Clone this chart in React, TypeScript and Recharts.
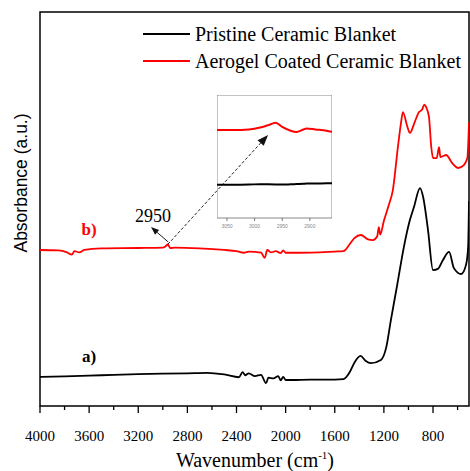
import React from 'react';
import { LineChart, Line, XAxis, YAxis, ReferenceArea, ReferenceLine, ReferenceDot, Legend } from 'recharts';

// ---- main spectrum data ----
const pristineWave = [4000, 3800, 3600, 3400, 3200, 3000, 2800, 2640, 2500, 2380, 2350, 2330, 2300, 2250, 2200, 2160, 2140, 2100, 2060, 2040, 2020, 2000, 1950, 1800, 1600, 1530, 1480, 1440, 1390, 1350, 1306, 1224, 1180, 1143, 1090, 1037, 990, 955, 906, 880, 841, 800, 760, 720, 669, 630, 571, 530, 514, 507];
const pristineAbs = [7.4, 7.5, 7.7, 7.9, 8.1, 8.2, 8.3, 8.4, 8.0, 7.3, 8.6, 7.8, 8.3, 7.6, 7.9, 5.8, 7.2, 7.0, 7.6, 6.5, 7.4, 6.6, 6.6, 6.7, 6.7, 6.8, 8.5, 11.0, 12.7, 11.5, 10.9, 11.7, 15.0, 21.8, 31.0, 40.4, 47.0, 50.5, 55.3, 53.0, 44.7, 34.5, 34.8, 37.0, 39.1, 35.0, 33.5, 36.0, 40.4, 52.0];

const coatedWave = [4000, 3850, 3780, 3740, 3720, 3680, 3640, 3500, 3200, 3000, 2980, 2960, 2940, 2900, 2700, 2500, 2400, 2340, 2300, 2200, 2170, 2150, 2120, 2080, 2040, 2020, 2000, 1900, 1600, 1530, 1480, 1440, 1388, 1330, 1290, 1255, 1241, 1230, 1200, 1160, 1127, 1086, 1060, 1045, 1010, 988, 950, 914, 890, 870, 857, 833, 815, 800, 770, 751, 740, 720, 694, 640, 596, 547, 520, 507];
const coatedAbs = [39.6, 39.5, 39.0, 38.4, 39.3, 39.0, 39.6, 40.0, 40.1, 40.2, 40.5, 41.0, 40.1, 40.2, 40.0, 39.6, 39.3, 38.9, 39.2, 38.9, 37.6, 39.6, 39.0, 39.3, 38.8, 39.5, 38.9, 38.9, 39.2, 39.3, 41.0, 42.6, 43.4, 42.3, 42.1, 43.0, 45.4, 43.5, 47.0, 51.0, 54.8, 65.7, 72.0, 74.6, 71.0, 69.3, 72.0, 74.6, 75.2, 76.5, 75.9, 73.4, 66.0, 62.9, 62.9, 65.7, 63.2, 63.4, 63.7, 61.5, 60.4, 61.2, 63.0, 72.0];

const xTicks = [4000, 3800, 3600, 3400, 3200, 3000, 2800, 2600, 2400, 2200, 2000, 1800, 1600, 1400, 1200, 1000, 800, 600];

const seriesNames = ['Pristine Ceramic Blanket', 'Aerogel Coated Ceramic Blanket'];

// ---- inset data ----
const insetWave = [3068, 3040, 3010, 2990, 2975, 2962, 2950, 2935, 2924, 2912, 2906, 2890, 2870, 2860];
const insetCoated = [71.5, 71.5, 72.0, 73.5, 75.5, 77.5, 74.0, 71.0, 70.0, 72.0, 72.8, 72.0, 71.0, 70.0];
const insetPristine = [27.0, 27.0, 27.2, 27.5, 27.4, 27.3, 27.2, 27.4, 27.6, 27.8, 28.0, 28.0, 28.2, 28.2];
const insetTicks = [3050, 3000, 2950, 2900];

const pristineData = pristineWave.map((w, i) => ({ w, a: pristineAbs[i] }));
const coatedData = coatedWave.map((w, i) => ({ w, a: coatedAbs[i] }));
const insetCoatedData = insetWave.map((w, i) => ({ w, a: insetCoated[i] }));
const insetPristineData = insetWave.map((w, i) => ({ w, a: insetPristine[i] }));

const SERIF = '"Liberation Serif", "Times New Roman", serif';
const SANS = '"Liberation Sans", Arial, sans-serif';
const RED = '#ff0000';

const XTick = (props: any) => {
  const { x, payload } = props;
  const v = payload.value;
  const major = v % 400 === 0;
  return (
    <g>
      <line x1={x} x2={x} y1={406} y2={406 + (major ? 7 : 4)} stroke="#000" strokeWidth={1.3} />
      {major && v <= 4000 && (
        <text x={x} y={441} textAnchor="middle" fontSize={15} fontFamily={SERIF} fill="#000">{v}</text>
      )}
    </g>
  );
};

const InsetTick = (props: any) => {
  const { x, payload } = props;
  return (
    <g>
      <line x1={x} x2={x} y1={123} y2={126} stroke="#777" strokeWidth={1} />
      <text x={x} y={133} textAnchor="middle" fontSize={5} fontFamily={SANS} fill="#888">{payload.value}</text>
    </g>
  );
};

const makeArrow = (dashed: boolean, head: number) => (p: any) => {
  const { x1, y1, x2, y2 } = p;
  const ang = Math.atan2(y2 - y1, x2 - x1);
  const bx = x2 - head * Math.cos(ang);
  const by = y2 - head * Math.sin(ang);
  const w = head * 0.38;
  const px = -Math.sin(ang) * w;
  const py = Math.cos(ang) * w;
  return (
    <g>
      <line x1={x1} y1={y1} x2={bx} y2={by} stroke="#222" strokeWidth={1} strokeDasharray={dashed ? '3 2' : undefined} />
      <polygon points={`${x2},${y2} ${bx + px},${by + py} ${bx - px},${by - py}`} fill="#111" />
    </g>
  );
};

const LegendContent = (props: any) => {
  const payload = [...(props.payload || [])].sort(
    (a: any, b: any) => seriesNames.indexOf(a.value) - seriesNames.indexOf(b.value)
  );
  return (
    <div style={{ fontFamily: SERIF, fontSize: 20, color: '#000' }}>
      {payload.map((e: any) => (
        <div key={e.value} style={{ display: 'flex', alignItems: 'center', height: 27, whiteSpace: 'nowrap' }}>
          <span style={{ display: 'inline-block', width: 47, height: 2, background: e.color, marginRight: 5, position: 'relative', top: -1 }} />
          <span>{e.value}</span>
        </div>
      ))}
    </div>
  );
};

const YLabel = () => (
  <text x={27} y={183} transform="rotate(-90 27 183)" textAnchor="middle" fontSize={17.5} fontFamily={SANS} fill="#000">
    Absorbance (a.u.)
  </text>
);

const XLabel = () => (
  <text x={255} y={467} textAnchor="middle" fontSize={20} fontFamily={SERIF} fill="#000">
    Wavenumber (cm<tspan fontSize={11} dy={-8}>-1</tspan><tspan dy={8}>)</tspan>
  </text>
);

export default function App() {
  return (
    <div style={{ position: 'absolute', left: 0, top: 0, width: 470, height: 471, background: '#fff' }}>
      <div style={{ position: 'absolute', left: 0, top: 0 }}>
        <LineChart width={470} height={471} margin={{ top: 12, right: 1, bottom: 0, left: 0 }}>
          <XAxis
            type="number"
            dataKey="w"
            domain={[507, 4000]}
            reversed
            allowDataOverflow
            ticks={xTicks}
            interval={0}
            tick={<XTick />}
            tickLine={false}
            axisLine={false}
            height={65}
            label={<XLabel />}
          />
          <YAxis type="number" domain={[0, 100]} allowDataOverflow width={40} tick={false} tickLine={false} axisLine={false} label={<YLabel />} />
          <ReferenceArea x1={507} x2={4000} y1={0} y2={100} fill="none" stroke="#000" strokeWidth={1.5} ifOverflow="visible" />
          <Legend
            layout="vertical"
            align="center"
            verticalAlign="middle"
            content={<LegendContent />}
            wrapperStyle={{ position: 'absolute', top: 21, left: 143, width: 330 }}
          />
          <Line data={pristineData} dataKey="a" name={seriesNames[0]} stroke="#000" strokeWidth={1.8} dot={false} type="monotone" isAnimationActive={false} />
          <Line data={coatedData} dataKey="a" name={seriesNames[1]} stroke={RED} strokeWidth={1.8} dot={false} type="monotone" isAnimationActive={false} />
          <ReferenceLine segment={[{ x: 2960, y: 41.0 }, { x: 2143, y: 68.8 }]} shape={makeArrow(true, 11)} ifOverflow="visible" />
          <ReferenceLine segment={[{ x: 2955, y: 41.6 }, { x: 3096, y: 45.4 }]} shape={makeArrow(false, 8)} ifOverflow="visible" />
          <ReferenceDot x={3080} y={48.3} r={0} fill="none" stroke="none" ifOverflow="visible"
            label={{ value: '2950', position: 'center', fontSize: 18, fontFamily: SERIF, fill: '#000' }} />
          <ReferenceDot x={3601} y={44.9} r={0} fill="none" stroke="none" ifOverflow="visible"
            label={{ value: 'b)', position: 'center', fontSize: 17, fontWeight: 'bold', fontFamily: SERIF, fill: RED }} />
          <ReferenceDot x={3601} y={12.6} r={0} fill="none" stroke="none" ifOverflow="visible"
            label={{ value: 'a)', position: 'center', fontSize: 17, fontWeight: 'bold', fontFamily: SERIF, fill: '#000' }} />
        </LineChart>
      </div>
      <div style={{ position: 'absolute', left: 217, top: 95 }}>
        <LineChart width={115} height={140} margin={{ top: 0, right: 0, bottom: 0, left: 0 }}>
          <XAxis type="number" dataKey="w" domain={[2860, 3068]} reversed allowDataOverflow ticks={insetTicks} interval={0}
            tick={<InsetTick />} tickLine={false} axisLine={false} height={17} />
          <YAxis type="number" domain={[0, 100]} hide />
          <ReferenceArea x1={2860} x2={3068} y1={0} y2={100} fill="none" stroke="#888" strokeWidth={1} ifOverflow="visible" />
          <Line data={insetCoatedData} dataKey="a" stroke={RED} strokeWidth={2} dot={false} type="monotone" isAnimationActive={false} />
          <Line data={insetPristineData} dataKey="a" stroke="#000" strokeWidth={2} dot={false} type="monotone" isAnimationActive={false} />
        </LineChart>
      </div>
    </div>
  );
}
